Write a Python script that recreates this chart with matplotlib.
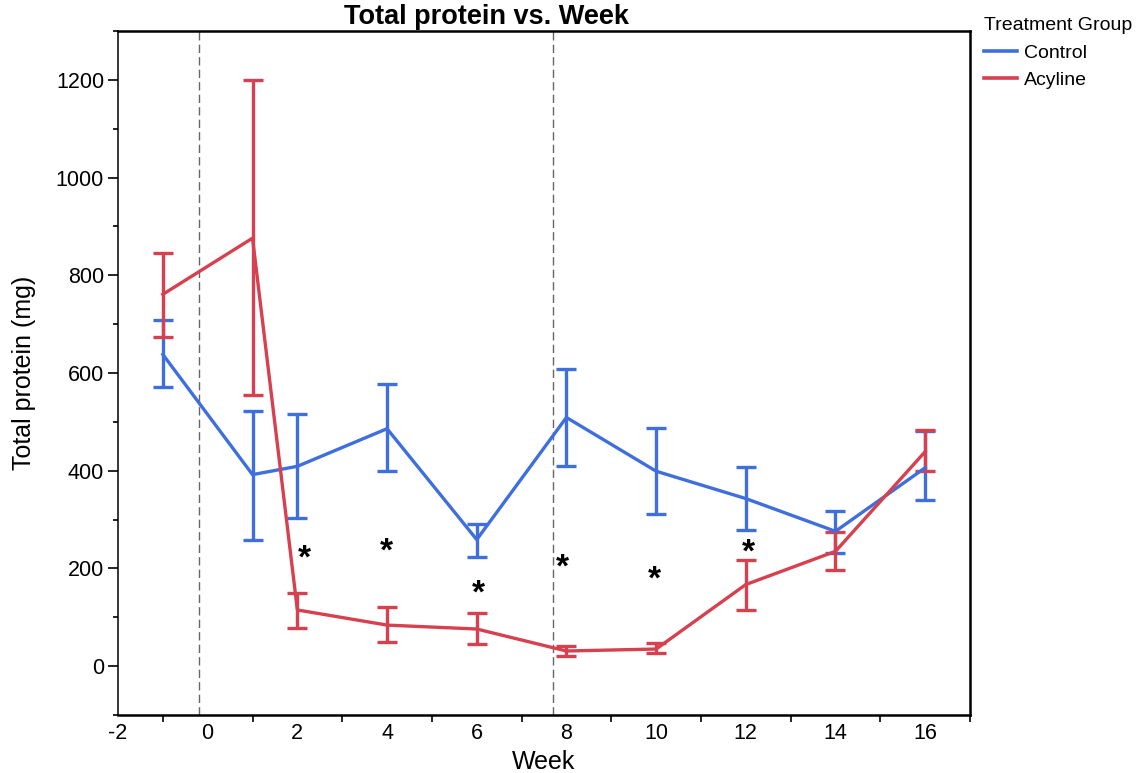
import numpy as np
import matplotlib
matplotlib.use("Agg")
import matplotlib.pyplot as plt
from matplotlib.ticker import MultipleLocator
from matplotlib.lines import Line2D
from matplotlib.transforms import offset_copy

plt.rcParams["font.family"] = ["Liberation Sans", "DejaVu Sans"]
plt.rcParams["axes.unicode_minus"] = False

# data
weeks = [-1, 1, 2, 4, 6, 8, 10, 12, 14, 16]
ctrl_mean = [638, 392, 409, 486, 259, 509, 399, 343, 276, 406]
ctrl_lo = [571, 259, 303, 399, 224, 410, 311, 279, 232, 340]
ctrl_hi = [708, 523, 516, 577, 291, 608, 488, 408, 317, 482]
acy_mean = [761, 876, 115, 84, 76, 31, 35, 167, 235, 439]
acy_lo = [674, 554, 78, 50, 46, 21, 27, 115, 197, 400]
acy_hi = [846, 1200, 150, 121, 108, 41, 47, 217, 274, 484]
star_x = [2.15, 3.98, 6.04, 7.91, 9.97, 12.05]
star_y = [235, 250, 163, 218, 192, 248]
vlines_x = [-0.2, 7.7]

BLUE = "#3f6fde"
RED = "#d6404f"

fig = plt.figure(figsize=(11.39, 7.73), dpi=100)
ax = fig.add_axes([118 / 1139, 1 - 715 / 773, (970 - 118) / 1139, (715 - 31) / 773])

for x in vlines_x:
    ax.axvline(x, color="#666666", lw=1.0, ls=(0, (6, 3)), zorder=1)

def series(mean, lo, hi, color, label):
    mean = np.array(mean); lo = np.array(lo); hi = np.array(hi)
    ax.errorbar(weeks, mean, yerr=[mean - lo, hi - mean], color=color, lw=2.4,
                elinewidth=2.4, capsize=7.5, capthick=2.4, zorder=3)

series(ctrl_mean, ctrl_lo, ctrl_hi, BLUE, "Control")
series(acy_mean, acy_lo, acy_hi, RED, "Acyline")

# asterisk glyph sits high in its box, nudge it down
star_tr = offset_copy(ax.transData, fig=fig, y=-8, units="dots")
for x, y in zip(star_x, star_y):
    ax.text(x, y, "*", ha="center", va="center", fontsize=24, color="black",
            fontweight="bold", transform=star_tr, zorder=4)

ax.set_xlim(-2, 17)
ax.set_ylim(-100, 1300)
ax.xaxis.set_major_locator(MultipleLocator(2))
ax.xaxis.set_minor_locator(MultipleLocator(2, offset=1))
ax.yaxis.set_major_locator(MultipleLocator(200))
ax.yaxis.set_minor_locator(MultipleLocator(100))
ax.tick_params(axis="x", which="major", length=0, labelsize=15.5, pad=6)
ax.tick_params(axis="x", which="minor", length=5, width=1.2)
ax.tick_params(axis="y", which="major", length=7, width=1.2, labelsize=15.5, pad=3)
ax.tick_params(axis="y", which="minor", length=3.5, width=1.2)

for side in ["top", "right", "bottom"]:
    ax.spines[side].set_linewidth(1.8)
ax.spines["left"].set_linewidth(1.1)

ax.set_xlabel("Week", fontsize=18, labelpad=4)
ax.set_ylabel("Total protein (mg)", fontsize=18, labelpad=14)
fig.text(487 / 1139, 1 - 17 / 773, "Total protein vs. Week", ha="center", va="center",
         fontsize=19.5, fontweight="bold")

handles = [Line2D([], [], color=BLUE, lw=2.6), Line2D([], [], color=RED, lw=2.6)]
leg = fig.legend(handles, ["Control", "Acyline"], loc="upper left",
                 bbox_to_anchor=(966 / 1139, 1 - 0 / 773), frameon=False,
                 title="Treatment Group", fontsize=14, title_fontsize=14,
                 handlelength=1.7, handletextpad=0.4, labelspacing=0.5)
leg._legend_box.align = "left"

fig.savefig("out.png", dpi=100)
